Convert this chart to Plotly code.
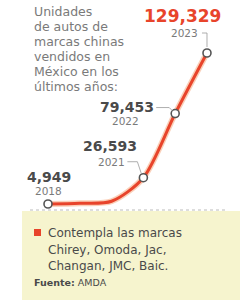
import plotly.graph_objects as go

# ---- data ----
years = [2018, 2019, 2020, 2021, 2022, 2023]
units = [4949, 5600, 7200, 26593, 79453, 129329]
labeled_years = [2018, 2021, 2022, 2023]
value_labels = ["4,949", "26,593", "79,453", "129,329"]
year_labels = ["2018", "2021", "2022", "2023"]

title_lines = ["Unidades", "de autos de", "marcas chinas", "vendidos en",
               "México en los", "últimos años:"]
note_lines = ["Contempla las marcas", "Chirey, Omoda, Jac,", "Changan, JMC, Baic."]
source_text = "<b>Fuente:</b> AMDA"

W, H = 240, 305
def px(x): return x / W
def py(y): return 1 - y / H

FONT = "DejaVu Sans"
ORANGE = "#E8442B"
GRAY = "#7a7a7a"
DARK = "#4a4a4a"

fig = go.Figure()

# glow under line
fig.add_trace(go.Scatter(x=years, y=units, mode="lines",
                         line=dict(color="rgba(245,150,100,0.45)", width=6, shape="spline", smoothing=0.8),
                         hoverinfo="skip", showlegend=False))
fig.add_trace(go.Scatter(x=years, y=units, mode="lines",
                         line=dict(color=ORANGE, width=3, shape="spline", smoothing=0.8),
                         hoverinfo="skip", showlegend=False))
lab_vals = [units[years.index(y)] for y in labeled_years]
fig.add_trace(go.Scatter(x=labeled_years, y=lab_vals, mode="markers",
                         marker=dict(size=8, color="white", line=dict(color="#555555", width=1.6)),
                         hoverinfo="skip", showlegend=False))

shapes = []
# yellow note box
shapes.append(dict(type="rect", xref="paper", yref="paper", x0=px(22), x1=1, y0=py(300), y1=py(211),
                   fillcolor="#F6F4CE", line=dict(width=0), layer="below"))
# dotted baseline
shapes.append(dict(type="line", xref="paper", yref="paper", x0=px(30), x1=px(228), y0=py(210), y1=py(210),
                   line=dict(color="#bbbbbb", width=1, dash="dot"), layer="below"))
# red square bullet
shapes.append(dict(type="rect", xref="paper", yref="paper", x0=px(34), x1=px(41), y0=py(236), y1=py(229),
                   fillcolor=ORANGE, line=dict(width=0)))

# leader lines anchored to data points
leaders = {2023: "M -5,20 L 0,20 L 0,6", 2022: "M -19,6 L -6,6 L -3,3", 2021: "M -16,16 L -6,16 L -2,4"}
for yr, path in leaders.items():
    shapes.append(dict(type="path", xref="x", yref="y", xsizemode="pixel", ysizemode="pixel",
                       xanchor=yr, yanchor=units[years.index(yr)], path=path,
                       line=dict(color="#999999", width=0.8)))

annotations = []
for i, line in enumerate(title_lines):
    annotations.append(dict(text=line, xref="paper", yref="paper", x=px(32), y=py(12 + i * 14.8),
                            xanchor="left", yanchor="middle", showarrow=False,
                            font=dict(family=FONT, size=12.5, color=GRAY)))

# value / year labels: offsets in pixels from the point
offs = {2018: ((1, 27), (1, 13)), 2021: ((-33, 32), (-32, 16)),
        2022: ((-48, 7), (-50, -7)), 2023: ((-24, 37), (-22, 20))}
for yr, vl, yl in zip(labeled_years, value_labels, year_labels):
    v = units[years.index(yr)]
    (vx, vy), (yx, yy) = offs[yr]
    is_max = yr == 2023
    annotations.append(dict(text="<b>" + vl + "</b>", x=yr, y=v, xref="x", yref="y",
                            xshift=vx, yshift=vy, showarrow=False, xanchor="center", yanchor="middle",
                            font=dict(family=FONT, size=17 if is_max else 14,
                                      color=ORANGE if is_max else DARK)))
    annotations.append(dict(text=yl, x=yr, y=v, xref="x", yref="y",
                            xshift=yx, yshift=yy, showarrow=False, xanchor="center", yanchor="middle",
                            font=dict(family=FONT, size=10.5, color=GRAY)))

for i, line in enumerate(note_lines):
    annotations.append(dict(text=line, xref="paper", yref="paper", x=px(46), y=py(233 + i * 16.5),
                            xanchor="left", yanchor="middle", showarrow=False,
                            font=dict(family=FONT, size=12, color=DARK)))
annotations.append(dict(text=source_text, xref="paper", yref="paper", x=px(32), y=py(282),
                        xanchor="left", yanchor="middle", showarrow=False,
                        font=dict(family=FONT, size=9.5, color=DARK)))

fig.update_layout(
    width=W, height=H, margin=dict(l=0, r=0, t=0, b=0),
    paper_bgcolor="white", plot_bgcolor="rgba(0,0,0,0)",
    xaxis=dict(range=[2016.491, 2024.038], visible=False, fixedrange=True),
    yaxis=dict(range=[-78245, 172984], visible=False, fixedrange=True),
    shapes=shapes, annotations=annotations, showlegend=False,
)

fig.write_html("out.html", config={"displayModeBar": False},
               post_script="document.body.style.margin='0';document.body.style.overflow='hidden';")
